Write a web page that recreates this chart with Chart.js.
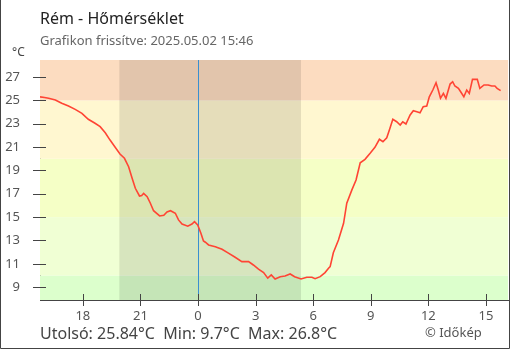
<!DOCTYPE html>
<html>
<head>
<meta charset="utf-8">
<script src="https://cdn.jsdelivr.net/npm/chart.js@4/dist/chart.umd.min.js"></script>
<style>
  html, body { margin: 0; padding: 0; background: #fff; }
  #wrap { position: relative; width: 510px; height: 350px; }
</style>
</head>
<body>
<div id="wrap"><canvas id="c" width="510" height="350"></canvas></div>
<script>
// Temperature readings, one day starting 15:46 on the previous day
const times = [
  '15:46','16:00','16:13','16:34','16:54','17:15','17:36','17:57','18:17','18:38',
  '18:54','19:10','19:25','19:41','19:56','20:10','20:23','20:34','20:44','20:57',
  '21:04','21:10','21:21','21:31','21:41','22:00','22:13','22:23','22:34','22:49',
  '22:59','23:10','23:28','23:41','23:49','23:59','00:09','00:17','00:23','00:33',
  '00:54','01:15','01:35','01:56','02:17','02:38','02:53','03:09','03:25','03:38',
  '03:49','04:01','04:17','04:32','04:48','05:02','05:22','05:40','05:56','06:06',
  '06:22','06:37','06:48','06:53','07:03','07:19','07:35','07:45','08:01','08:14',
  '08:27','08:42','08:58','09:13','09:27','09:38','09:50','10:00','10:09','10:21',
  '10:32','10:40','10:50','11:03','11:13','11:24','11:34','11:44','11:55','12:03',
  '12:14','12:24','12:31','12:38','12:47','12:55','13:08','13:16','13:23','13:34',
  '13:41','13:51','14:00','14:08','14:18','14:33','14:41','14:54','15:07','15:18',
  '15:28','15:35','15:46'
];
const temps = [
  25.30,25.25,25.18,25.03,24.75,24.52,24.23,23.89,23.38,23.04,
  22.75,22.23,21.60,20.98,20.40,20.04,19.32,18.33,17.47,16.81,
  16.85,17.04,16.75,16.19,15.55,15.10,15.16,15.44,15.55,15.33,
  14.76,14.41,14.22,14.41,14.61,14.33,13.62,12.95,12.85,12.62,
  12.47,12.25,11.91,11.56,11.19,11.19,10.90,10.54,10.25,9.77,
  10.05,9.70,9.90,9.96,10.13,9.90,9.70,9.85,9.85,9.73,
  9.90,10.25,10.62,10.76,11.95,13.04,14.47,16.19,17.33,18.18,
  19.66,19.95,20.47,20.98,21.67,21.46,21.80,22.61,23.38,23.17,
  22.89,23.17,22.98,23.75,24.11,24.03,23.94,24.46,24.52,25.31,
  25.89,26.51,25.89,25.18,25.60,25.18,26.40,26.60,26.23,26.03,
  25.74,25.31,25.89,25.60,26.80,26.80,26.03,26.32,26.32,26.23,
  26.23,26.03,25.84
];

const yTicks = [9, 11, 13, 15, 17, 19, 21, 23, 25, 27];
const xTickHours = [18, 21, 0, 3, 6, 9, 12, 15];

// Temperature zones behind the curve
const bandEdges = [-100, 10, 15, 20, 25, 100];
const bandColors = ['#dcffcc', '#f0ffd4', '#f5ffc6', '#fff7d0', '#fcdcc0'];

// Darkness between sunset and sunrise
const nightStart = '19:54';
const nightEnd = '05:22';

const lastValue = '25.84';
const minValue = '9.7';
const maxValue = '26.8';

function toHours(t) {
  const [h, m] = t.split(':').map(Number);
  return h + m / 60;
}

// Hours relative to midnight: the evening before is negative
const points = [];
let offset = -24, prev = -1;
times.forEach((t, i) => {
  const h = toHours(t);
  if (h < prev) offset += 24;
  prev = h;
  points.push({ x: h + offset, y: temps[i] });
});
const xMin = points[0].x;

const backdrop = {
  id: 'backdrop',
  beforeDatasetsDraw(chart) {
    const { ctx, chartArea: a, scales: { x, y } } = chart;
    ctx.save();
    ctx.beginPath();
    ctx.rect(a.left, a.top, a.right - a.left, a.bottom - a.top);
    ctx.clip();
    for (let i = 0; i < bandColors.length; i++) {
      const y0 = y.getPixelForValue(bandEdges[i + 1]);
      const y1 = y.getPixelForValue(bandEdges[i]);
      ctx.fillStyle = bandColors[i];
      ctx.fillRect(a.left, y0, a.right - a.left, y1 - y0);
    }
    const n0 = x.getPixelForValue(toHours(nightStart) - 24);
    const n1 = x.getPixelForValue(toHours(nightEnd));
    ctx.fillStyle = 'rgba(0,0,0,0.1)';
    ctx.fillRect(n0, a.top, n1 - n0, a.bottom - a.top);
    // midnight marker
    const m = Math.round(x.getPixelForValue(0)) + 0.5;
    ctx.strokeStyle = '#3a8fd0';
    ctx.lineWidth = 1;
    ctx.beginPath();
    ctx.moveTo(m, a.top);
    ctx.lineTo(m, a.bottom);
    ctx.stroke();
    ctx.restore();
  },
  afterDraw(chart) {
    const { ctx, chartArea: a, scales: { x, y } } = chart;
    ctx.save();
    ctx.strokeStyle = '#444';
    ctx.lineWidth = 1;
    // tick marks crossing the axes
    ctx.beginPath();
    yTicks.forEach(v => {
      const p = Math.round(y.getPixelForValue(v)) + 0.5;
      ctx.moveTo(a.left - 7, p);
      ctx.lineTo(a.left + 6, p);
    });
    xTickHours.forEach(hh => {
      const v = hh > 15.8 ? hh - 24 : hh;
      const p = Math.round(x.getPixelForValue(v)) + 0.5;
      ctx.moveTo(p, a.bottom - 6);
      ctx.lineTo(p, a.bottom + 6);
    });
    ctx.stroke();
    // frame
    ctx.strokeStyle = '#444';
    ctx.beginPath();
    ctx.moveTo(0.5, 0);
    ctx.lineTo(0.5, 348.5);
    ctx.lineTo(509.5, 348.5);
    ctx.lineTo(509.5, 0);
    ctx.stroke();

    // texts
    ctx.textBaseline = 'alphabetic';
    ctx.textAlign = 'left';
    ctx.fillStyle = '#222';
    ctx.font = '16px "Noto Sans"';
    ctx.fillText('Rém - Hőmérséklet', 40, 24);
    ctx.fillStyle = '#666';
    ctx.font = '13px "Noto Sans"';
    ctx.fillText('Grafikon frissítve: 2025.05.02 15:46', 40, 45);
    ctx.fillStyle = '#444';
    ctx.font = '12px "Noto Sans"';
    ctx.fillText('°C', 12, 56);
    ctx.fillStyle = '#444';
    ctx.font = '16px "Noto Sans"';
    ctx.fillText('Utolsó: ' + lastValue + '°C  Min: ' + minValue + '°C  Max: ' + maxValue + '°C', 40, 339);
    ctx.fillStyle = '#555';
    ctx.font = '13px "Noto Sans"';
    ctx.fillText('© Időkép', 425, 337);
    ctx.restore();
  }
};

new Chart(document.getElementById('c'), {
  type: 'line',
  data: {
    datasets: [{
      data: points,
      borderColor: '#ff4434',
      borderWidth: 1.6,
      pointRadius: 0,
      tension: 0,
      fill: false
    }]
  },
  options: {
    responsive: false,
    animation: false,
    devicePixelRatio: 1,
    layout: { padding: { top: 60, right: 2, left: 0, bottom: 0 } },
    plugins: { legend: { display: false }, tooltip: { enabled: false } },
    scales: {
      x: {
        type: 'linear',
        min: xMin,
        max: 16.15,
        afterFit(s) { s.height = 50; },
        afterBuildTicks(s) {
          s.ticks = xTickHours.map(hh => ({ value: hh > 15.8 ? hh - 24 : hh }));
        },
        grid: { display: false, drawTicks: false },
        border: { display: true, color: '#444', width: 1 },
        ticks: {
          padding: 8,
          maxRotation: 0,
          autoSkip: false,
          color: '#555',
          font: { family: 'Noto Sans', size: 13 },
          callback: v => String(((Math.round(v) % 24) + 24) % 24)
        }
      },
      y: {
        type: 'linear',
        min: 7.9,
        max: 28.46,
        afterFit(s) { s.width = 40; },
        afterBuildTicks(s) {
          s.ticks = yTicks.map(v => ({ value: v }));
        },
        grid: { display: false, drawTicks: false },
        border: { display: true, color: '#444', width: 1 },
        ticks: {
          padding: 20,
          color: '#555',
          font: { family: 'Noto Sans', size: 13 },
          callback: v => String(v)
        }
      }
    }
  },
  plugins: [backdrop]
});
</script>
</body>
</html>
